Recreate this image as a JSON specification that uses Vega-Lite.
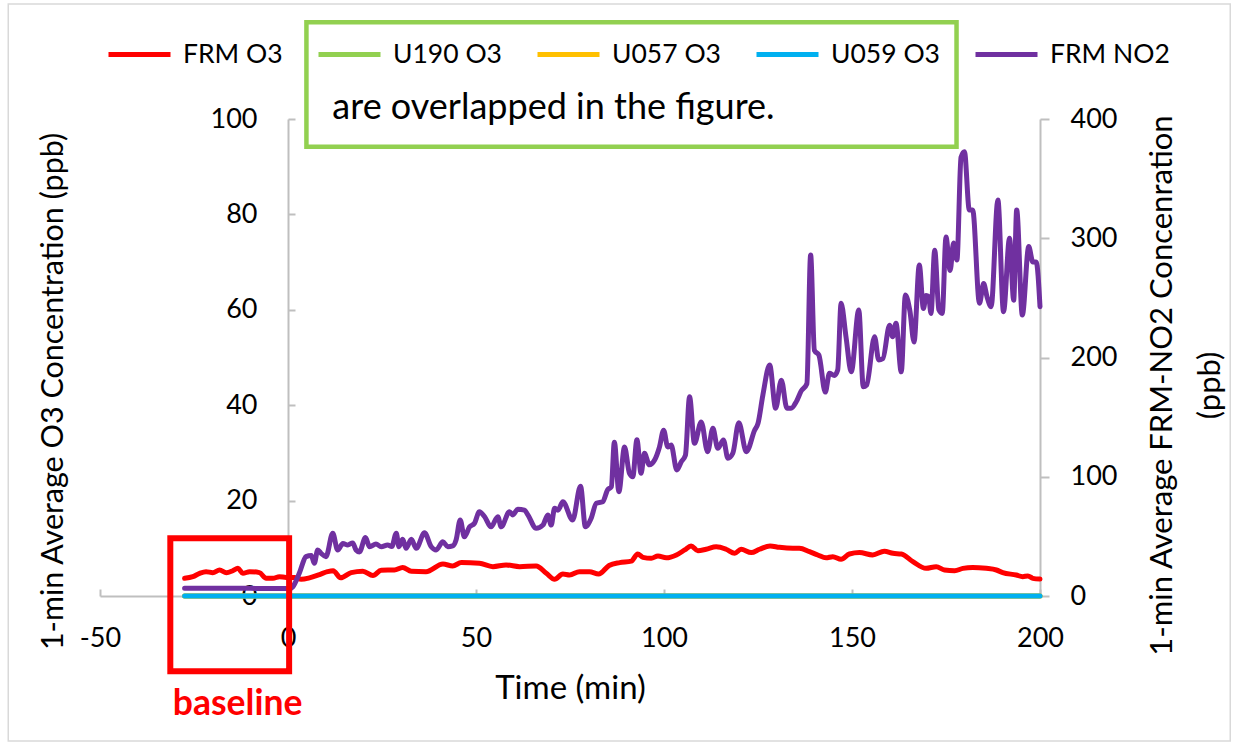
{
  "$schema": "https://vega.github.io/schema/vega-lite/v6.json",
  "width": 940,
  "height": 477,
  "autosize": {"type": "none"},
  "padding": {"left": 100, "top": 119, "right": 197, "bottom": 150},
  "background": "white",
  "config": {
    "view": {"stroke": null},
    "font": "Lato",
    "axis": {"grid": false, "labelFont": "Lato", "titleFont": "Lato", "labelColor": "black", "titleColor": "black", "titleFontWeight": "normal", "labelFlush": false, "labelOverlap": false},
    "legend": {"labelFont": "Lato"}
  },
  "datasets": {
    "o3": [
      {"t": -27.5, "series": "FRM O3", "ppb": 3.7}, {"t": -25.3, "series": "FRM O3", "ppb": 4.05}, {"t": -23.5, "series": "FRM O3", "ppb": 4.75},
      {"t": -21.8, "series": "FRM O3", "ppb": 5.1}, {"t": -20, "series": "FRM O3", "ppb": 4.9}, {"t": -18.2, "series": "FRM O3", "ppb": 5.45},
      {"t": -16.4, "series": "FRM O3", "ppb": 4.9}, {"t": -14.7, "series": "FRM O3", "ppb": 5.3}, {"t": -13.3, "series": "FRM O3", "ppb": 5.8},
      {"t": -12, "series": "FRM O3", "ppb": 4.75}, {"t": -10.2, "series": "FRM O3", "ppb": 5.1}, {"t": -7.6, "series": "FRM O3", "ppb": 4.9},
      {"t": -5.8, "series": "FRM O3", "ppb": 3.7}, {"t": -4, "series": "FRM O3", "ppb": 3.7}, {"t": -2.3, "series": "FRM O3", "ppb": 4.05},
      {"t": -0.5, "series": "FRM O3", "ppb": 3.9}, {"t": 1.7, "series": "FRM O3", "ppb": 3.9}, {"t": 3.5, "series": "FRM O3", "ppb": 3.5},
      {"t": 5.7, "series": "FRM O3", "ppb": 3.8}, {"t": 8.4, "series": "FRM O3", "ppb": 4.5}, {"t": 10.5, "series": "FRM O3", "ppb": 5.1},
      {"t": 12, "series": "FRM O3", "ppb": 5.3}, {"t": 14, "series": "FRM O3", "ppb": 3.8}, {"t": 16.8, "series": "FRM O3", "ppb": 4.9},
      {"t": 19.9, "series": "FRM O3", "ppb": 5.2}, {"t": 22.6, "series": "FRM O3", "ppb": 4.3}, {"t": 24.8, "series": "FRM O3", "ppb": 5.4},
      {"t": 28.3, "series": "FRM O3", "ppb": 5.45}, {"t": 30.5, "series": "FRM O3", "ppb": 6}, {"t": 32.8, "series": "FRM O3", "ppb": 5.2},
      {"t": 36.7, "series": "FRM O3", "ppb": 5.1}, {"t": 41.2, "series": "FRM O3", "ppb": 6.7}, {"t": 43.8, "series": "FRM O3", "ppb": 6.3},
      {"t": 46.1, "series": "FRM O3", "ppb": 7}, {"t": 50.9, "series": "FRM O3", "ppb": 6.85}, {"t": 54.5, "series": "FRM O3", "ppb": 6.15},
      {"t": 58, "series": "FRM O3", "ppb": 6.5}, {"t": 61.6, "series": "FRM O3", "ppb": 6.15}, {"t": 66, "series": "FRM O3", "ppb": 6.3},
      {"t": 68.7, "series": "FRM O3", "ppb": 4.75}, {"t": 70.9, "series": "FRM O3", "ppb": 3.5}, {"t": 73.1, "series": "FRM O3", "ppb": 4.6},
      {"t": 74.9, "series": "FRM O3", "ppb": 4.4}, {"t": 77.5, "series": "FRM O3", "ppb": 5.1}, {"t": 80.2, "series": "FRM O3", "ppb": 5.1},
      {"t": 82.6, "series": "FRM O3", "ppb": 4.6}, {"t": 85.4, "series": "FRM O3", "ppb": 6.4}, {"t": 88.2, "series": "FRM O3", "ppb": 7},
      {"t": 91.3, "series": "FRM O3", "ppb": 7.3}, {"t": 93, "series": "FRM O3", "ppb": 8.8}, {"t": 94.4, "series": "FRM O3", "ppb": 8.1},
      {"t": 96.6, "series": "FRM O3", "ppb": 7.9}, {"t": 98.4, "series": "FRM O3", "ppb": 8.4}, {"t": 100.6, "series": "FRM O3", "ppb": 8},
      {"t": 103.3, "series": "FRM O3", "ppb": 8.6}, {"t": 105.5, "series": "FRM O3", "ppb": 9.65}, {"t": 107.2, "series": "FRM O3", "ppb": 10.5},
      {"t": 109, "series": "FRM O3", "ppb": 9.5}, {"t": 111.2, "series": "FRM O3", "ppb": 9.8}, {"t": 113.9, "series": "FRM O3", "ppb": 10.3},
      {"t": 116.5, "series": "FRM O3", "ppb": 9.8}, {"t": 118.8, "series": "FRM O3", "ppb": 8.95}, {"t": 120.5, "series": "FRM O3", "ppb": 9.8},
      {"t": 123.2, "series": "FRM O3", "ppb": 9.1}, {"t": 125.4, "series": "FRM O3", "ppb": 9.8}, {"t": 128.2, "series": "FRM O3", "ppb": 10.5},
      {"t": 130.7, "series": "FRM O3", "ppb": 10.2}, {"t": 134.3, "series": "FRM O3", "ppb": 10}, {"t": 136, "series": "FRM O3", "ppb": 10},
      {"t": 138.7, "series": "FRM O3", "ppb": 9.3}, {"t": 140.9, "series": "FRM O3", "ppb": 8.6}, {"t": 143.1, "series": "FRM O3", "ppb": 8},
      {"t": 144.9, "series": "FRM O3", "ppb": 8.25}, {"t": 147.1, "series": "FRM O3", "ppb": 7.7}, {"t": 149.3, "series": "FRM O3", "ppb": 8.8},
      {"t": 152, "series": "FRM O3", "ppb": 9.1}, {"t": 155.5, "series": "FRM O3", "ppb": 8.6}, {"t": 158.6, "series": "FRM O3", "ppb": 9.4},
      {"t": 160.9, "series": "FRM O3", "ppb": 8.95}, {"t": 163.1, "series": "FRM O3", "ppb": 8.8}, {"t": 166.2, "series": "FRM O3", "ppb": 7.2},
      {"t": 169.7, "series": "FRM O3", "ppb": 5.8}, {"t": 172.4, "series": "FRM O3", "ppb": 6.15}, {"t": 174.6, "series": "FRM O3", "ppb": 5.45},
      {"t": 177.3, "series": "FRM O3", "ppb": 5.3}, {"t": 179.5, "series": "FRM O3", "ppb": 5.8}, {"t": 182.1, "series": "FRM O3", "ppb": 6},
      {"t": 185.7, "series": "FRM O3", "ppb": 5.8}, {"t": 188.4, "series": "FRM O3", "ppb": 5.45}, {"t": 190.1, "series": "FRM O3", "ppb": 4.9},
      {"t": 193.7, "series": "FRM O3", "ppb": 4.4}, {"t": 195.4, "series": "FRM O3", "ppb": 4.05}, {"t": 196.8, "series": "FRM O3", "ppb": 4.2},
      {"t": 198.1, "series": "FRM O3", "ppb": 3.7}, {"t": 200, "series": "FRM O3", "ppb": 3.55},
      {"t": -27.5, "series": "U190 O3", "ppb": 0}, {"t": 200, "series": "U190 O3", "ppb": 0},
      {"t": -27.5, "series": "U057 O3", "ppb": 0}, {"t": 200, "series": "U057 O3", "ppb": 0},
      {"t": -27.5, "series": "U059 O3", "ppb": 0}, {"t": 200, "series": "U059 O3", "ppb": 0}
    ],
    "no2": [
      {"t": -27.5, "ppb": 6.6}, {"t": -20, "ppb": 6.6}, {"t": -10, "ppb": 6.4}, {"t": -2, "ppb": 6.3}, {"t": 0.5, "ppb": 6.3},
      {"t": 1.3, "ppb": 7.8}, {"t": 3, "ppb": 19}, {"t": 4.8, "ppb": 33}, {"t": 6.2, "ppb": 34}, {"t": 7, "ppb": 27.4},
      {"t": 7.9, "ppb": 38.6}, {"t": 8.8, "ppb": 35.8}, {"t": 10.1, "ppb": 33}, {"t": 11.9, "ppb": 52.6}, {"t": 13.2, "ppb": 38.6},
      {"t": 14.6, "ppb": 44}, {"t": 15.9, "ppb": 42.8}, {"t": 17.2, "ppb": 44.5}, {"t": 18.1, "ppb": 38.6}, {"t": 19, "ppb": 37},
      {"t": 20.6, "ppb": 49}, {"t": 21.7, "ppb": 41.3}, {"t": 23.4, "ppb": 43.6}, {"t": 24.8, "ppb": 41.3}, {"t": 26.5, "ppb": 42.8},
      {"t": 27.6, "ppb": 41.5}, {"t": 28.8, "ppb": 52.6}, {"t": 29.5, "ppb": 41.3}, {"t": 30.5, "ppb": 47.5}, {"t": 31.4, "ppb": 40},
      {"t": 32.8, "ppb": 47.5}, {"t": 34.1, "ppb": 40}, {"t": 36.3, "ppb": 53}, {"t": 38.1, "ppb": 41.3}, {"t": 39.4, "ppb": 38.6},
      {"t": 41.2, "ppb": 45.5}, {"t": 42.5, "ppb": 41.3}, {"t": 43.8, "ppb": 42}, {"t": 44.7, "ppb": 47}, {"t": 45.8, "ppb": 63.7},
      {"t": 46.9, "ppb": 49.7}, {"t": 48.3, "ppb": 58}, {"t": 49.6, "ppb": 61}, {"t": 50.9, "ppb": 70.7}, {"t": 52.3, "ppb": 66.5},
      {"t": 54, "ppb": 58}, {"t": 55.8, "ppb": 66.5}, {"t": 56.7, "ppb": 58}, {"t": 58.9, "ppb": 70.7}, {"t": 59.8, "ppb": 68},
      {"t": 61.1, "ppb": 72.7}, {"t": 62.9, "ppb": 72}, {"t": 63.8, "ppb": 68}, {"t": 66, "ppb": 56.8}, {"t": 67.8, "ppb": 59.5},
      {"t": 69.1, "ppb": 68}, {"t": 70, "ppb": 59.5}, {"t": 70.9, "ppb": 73.5}, {"t": 71.8, "ppb": 72}, {"t": 73.1, "ppb": 79},
      {"t": 75.7, "ppb": 63.7}, {"t": 77.8, "ppb": 92}, {"t": 79.1, "ppb": 58}, {"t": 80.6, "ppb": 65}, {"t": 82, "ppb": 77.7},
      {"t": 83.7, "ppb": 79}, {"t": 85, "ppb": 89}, {"t": 86, "ppb": 91.7}, {"t": 86.8, "ppb": 129}, {"t": 88, "ppb": 87.5},
      {"t": 89.5, "ppb": 125}, {"t": 90.8, "ppb": 103}, {"t": 91.7, "ppb": 100}, {"t": 92.8, "ppb": 131}, {"t": 93.9, "ppb": 103},
      {"t": 94.8, "ppb": 119.7}, {"t": 96.1, "ppb": 110}, {"t": 97.5, "ppb": 114}, {"t": 98.8, "ppb": 125}, {"t": 99.9, "ppb": 139},
      {"t": 101, "ppb": 125}, {"t": 101.9, "ppb": 126.6}, {"t": 103.4, "ppb": 105.7}, {"t": 104.6, "ppb": 112.6}, {"t": 105.7, "ppb": 118},
      {"t": 106.8, "ppb": 167}, {"t": 108.1, "ppb": 128}, {"t": 109.9, "ppb": 146}, {"t": 111.6, "ppb": 121}, {"t": 113, "ppb": 140.6},
      {"t": 114.3, "ppb": 123.8}, {"t": 115.8, "ppb": 130.8}, {"t": 117, "ppb": 115.5}, {"t": 118.3, "ppb": 119.7}, {"t": 119.9, "ppb": 145.3},
      {"t": 121.9, "ppb": 121}, {"t": 124.1, "ppb": 139}, {"t": 125, "ppb": 144.8}, {"t": 126.3, "ppb": 168.6}, {"t": 128.1, "ppb": 193.7},
      {"t": 129.7, "ppb": 157.4}, {"t": 131.2, "ppb": 181}, {"t": 132.7, "ppb": 157.4}, {"t": 133.8, "ppb": 157.4}, {"t": 135.2, "ppb": 163},
      {"t": 136.5, "ppb": 172}, {"t": 138, "ppb": 178}, {"t": 139, "ppb": 286}, {"t": 140, "ppb": 206}, {"t": 141.2, "ppb": 202},
      {"t": 142.9, "ppb": 171}, {"t": 144, "ppb": 186.7}, {"t": 145.3, "ppb": 185}, {"t": 146.2, "ppb": 189.5}, {"t": 147.1, "ppb": 245.4},
      {"t": 148.4, "ppb": 217.4}, {"t": 149.8, "ppb": 188}, {"t": 151.8, "ppb": 239.8}, {"t": 153, "ppb": 175.5}, {"t": 153.9, "ppb": 177},
      {"t": 156, "ppb": 217.4}, {"t": 157.1, "ppb": 198}, {"t": 158.2, "ppb": 199}, {"t": 160, "ppb": 227}, {"t": 160.8, "ppb": 217.4},
      {"t": 161.7, "ppb": 228.7}, {"t": 163.1, "ppb": 188}, {"t": 164.2, "ppb": 252.4}, {"t": 165.4, "ppb": 239}, {"t": 166.5, "ppb": 213},
      {"t": 167.9, "ppb": 277.6}, {"t": 169, "ppb": 241}, {"t": 169.7, "ppb": 252}, {"t": 170.4, "ppb": 251}, {"t": 171, "ppb": 237},
      {"t": 172, "ppb": 290}, {"t": 173.1, "ppb": 240}, {"t": 174, "ppb": 237}, {"t": 175, "ppb": 301}, {"t": 176.1, "ppb": 273},
      {"t": 177, "ppb": 296}, {"t": 177.9, "ppb": 281.8}, {"t": 179, "ppb": 368}, {"t": 179.9, "ppb": 372.6}, {"t": 181.2, "ppb": 323.7},
      {"t": 182.1, "ppb": 323.7}, {"t": 183.9, "ppb": 245.4}, {"t": 185, "ppb": 262}, {"t": 185.9, "ppb": 251}, {"t": 187, "ppb": 242.6},
      {"t": 188.8, "ppb": 332}, {"t": 190.3, "ppb": 238.4}, {"t": 191.9, "ppb": 300}, {"t": 193, "ppb": 248}, {"t": 193.8, "ppb": 323.7},
      {"t": 195.3, "ppb": 235.6}, {"t": 197, "ppb": 293}, {"t": 198.1, "ppb": 280}, {"t": 199, "ppb": 280}, {"t": 200, "ppb": 242.6}
    ]
  },
  "layer": [
    {
      "data": {"name": "o3"},
      "mark": {"type": "line", "strokeWidth": 5, "strokeJoin": "round", "strokeCap": "round", "interpolate": "monotone"},
      "encoding": {
        "x": {
          "field": "t", "type": "quantitative",
          "scale": {"domain": [-50, 200], "nice": false, "zero": false},
          "axis": {
            "title": "Time (min)", "values": [-50, 0, 50, 100, 150, 200], "labelExpr": "'' + datum.value",
            "domainColor": "#BFBFBF", "domainWidth": 2, "tickColor": "#BFBFBF", "tickWidth": 2, "tickSize": -7,
            "labelPadding": 36, "labelFontSize": 27,
            "titleFontSize": 33, "titleBaseline": "alphabetic", "titleAlign": "center", "titleX": 470, "titleY": 102
          }
        },
        "y": {
          "field": "ppb", "type": "quantitative",
          "scale": {"domain": [0, 100], "nice": false},
          "axis": {
            "title": "1-min Average O3 Concentration (ppb)", "orient": "left", "offset": -188,
            "values": [0, 20, 40, 60, 80, 100],
            "domainColor": "#BFBFBF", "domainWidth": 2, "tickColor": "#BFBFBF", "tickWidth": 2, "tickSize": -7,
            "labelPadding": 38, "labelFontSize": 27,
            "titleFontSize": 30.5, "titleAngle": 270, "titleBaseline": "alphabetic", "titleAlign": "center", "titleX": -226, "titleY": 272
          }
        },
        "color": {
          "field": "series", "type": "nominal",
          "scale": {
            "domain": ["FRM O3", "U190 O3", "U057 O3", "U059 O3", "FRM NO2"],
            "range": ["#FF0000", "#92D050", "#FFC000", "#00B0F0", "#7030A0"]
          },
          "legend": {
            "title": null, "orient": "none", "direction": "horizontal", "columns": 5, "gridAlign": "none",
            "legendX": 6, "legendY": -98,
            "symbolType": "stroke", "symbolSize": 3844, "symbolStrokeWidth": 5,
            "labelFontSize": 26.5, "labelColor": "black", "labelOffset": 10, "columnPadding": 25
          }
        }
      }
    },
    {
      "data": {"name": "no2"},
      "mark": {"type": "line", "strokeWidth": 5, "strokeJoin": "round", "strokeCap": "round", "interpolate": "monotone"},
      "encoding": {
        "x": {"field": "t", "type": "quantitative"},
        "y": {
          "field": "ppb", "type": "quantitative",
          "scale": {"domain": [0, 400], "nice": false},
          "axis": {
            "title": ["1-min Average FRM-NO2 Concenration", "(ppb)"], "orient": "right",
            "values": [0, 100, 200, 300, 400],
            "domainColor": "#BFBFBF", "domainWidth": 2, "tickColor": "#BFBFBF", "tickWidth": 2, "tickSize": 9,
            "labelPadding": 21, "labelFontSize": 27,
            "titleFontSize": 31, "titleAngle": 270, "titleBaseline": "alphabetic", "titleAlign": "center",
            "titleX": 131, "titleY": 266, "titleLineHeight": 48
          }
        },
        "color": {"datum": "FRM NO2", "type": "nominal"}
      }
    },
    {
      "layer": [
        {
          "data": {"values": [{"x0": -74.4, "x1": 250.6, "y0": -30.4, "y1": 124.1}]},
          "mark": {"type": "rect", "filled": false, "stroke": "#D9D9D9", "strokeWidth": 1.5},
          "encoding": {
            "x": {"field": "x0", "type": "quantitative"}, "x2": {"field": "x1"},
            "y": {"field": "y0", "type": "quantitative", "scale": {"domain": [0, 100], "nice": false}, "axis": null}, "y2": {"field": "y1"}
          }
        },
        {
          "data": {"values": [{"x0": 4.9, "x1": 177.8, "y0": 94.2, "y1": 120.3}]},
          "mark": {"type": "rect", "filled": false, "stroke": "#92D050", "strokeWidth": 4.5},
          "encoding": {
            "x": {"field": "x0", "type": "quantitative"}, "x2": {"field": "x1"},
            "y": {"field": "y0", "type": "quantitative", "axis": null}, "y2": {"field": "y1"}
          }
        },
        {
          "data": {"values": [{"x": 11.8, "y": 100, "note": "are overlapped in the figure."}]},
          "mark": {"type": "text", "align": "left", "baseline": "alphabetic", "font": "Lato", "fontSize": 36, "color": "black"},
          "encoding": {
            "x": {"field": "x", "type": "quantitative"},
            "y": {"field": "y", "type": "quantitative", "axis": null},
            "text": {"field": "note"}
          }
        },
        {
          "data": {"values": [{"x0": -31.3, "x1": 0.3, "y0": -15.8, "y1": 12.1}]},
          "mark": {"type": "rect", "filled": false, "stroke": "#FF0000", "strokeWidth": 6},
          "encoding": {
            "x": {"field": "x0", "type": "quantitative"}, "x2": {"field": "x1"},
            "y": {"field": "y0", "type": "quantitative", "axis": null}, "y2": {"field": "y1"}
          }
        },
        {
          "data": {"values": [{"x": -13.4, "y": -24.9, "note": "baseline"}]},
          "mark": {"type": "text", "align": "center", "baseline": "alphabetic", "font": "Lato", "fontSize": 35.5, "fontWeight": "bold", "color": "#FF0000"},
          "encoding": {
            "x": {"field": "x", "type": "quantitative"},
            "y": {"field": "y", "type": "quantitative", "axis": null},
            "text": {"field": "note"}
          }
        }
      ]
    }
  ],
  "resolve": {"scale": {"y": "independent"}}
}
